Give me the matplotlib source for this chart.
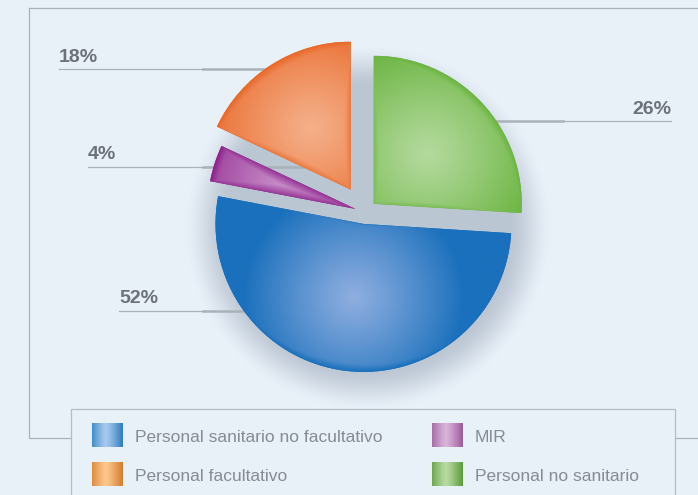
import numpy as np
import matplotlib.pyplot as plt
from matplotlib.patches import Rectangle
from matplotlib.colors import to_rgb

# datos del gráfico
categorias = ["Personal facultativo", "MIR", "Personal sanitario no facultativo", "Personal no sanitario"]
porcentajes = [18, 4, 52, 26]
etiquetas = ["18%", "4%", "52%", "26%"]
orden_leyenda = [2, 1, 0, 3]  # fila a fila, dos columnas

W, H = 698, 495
fondo = "#e8f0f8"
gris_linea = "#a9b1b9"
gris_texto = "#6d7278"

oscuro = ["#e96a2c", "#8a1f8a", "#1a70bc", "#6db543"]
claro = ["#f5b08a", "#c98fc9", "#8eaee0", "#b4da9e"]
sw_oscuro = ["#d47b2c", "#9a5a9a", "#2a7dbf", "#5b9a3a"]
sw_claro = ["#fdc88d", "#d8b6d8", "#a8caee", "#b8dda2"]
explode = [26.5, 10, 12, 12]  # desplazamiento en píxeles


def y(v):
    # posiciones en píxeles medidas desde arriba
    return H - v


fig = plt.figure(figsize=(W / 100, H / 100), dpi=100, facecolor=fondo)
ax = fig.add_axes([0, 0, 1, 1])
ax.set_facecolor(fondo)

# sombra difusa bajo la tarta
xs = np.arange(150, 600) + 0.5
ys = np.arange(0, 450) + 0.5
gx, gy = np.meshgrid(xs, ys)
d = np.hypot(gx - 368, gy - 228)
a = np.clip((185 - d) / 45, 0, 1)
a = a * a * (3 - 2 * a) * 0.42
sombra = np.zeros(d.shape + (4,))
sombra[..., :3] = to_rgb("#7d8ca0")
sombra[..., 3] = a
ax.imshow(sombra, extent=(150, 600, y(450), y(0)), zorder=1, interpolation="bilinear")

# líneas guía de las etiquetas (quedan tapadas por la tarta)
lab_x = [59, 88, 119, 671]
lab_base = [62, 159, 303, 114]
linea_y = [69, 167, 311, 121]
for i, et in enumerate(etiquetas):
    if i == 3:
        ax.plot([563, 671], [y(linea_y[i])] * 2, color=gris_linea, lw=0.9, zorder=1.5)
        ax.plot([450, 563], [y(linea_y[i])] * 2, color=gris_linea, lw=1.8, zorder=1.5)
        ha = "right"
    else:
        ax.plot([lab_x[i], 203], [y(linea_y[i])] * 2, color=gris_linea, lw=0.9, zorder=1.5)
        ax.plot([203, 330], [y(linea_y[i])] * 2, color=gris_linea, lw=1.8, zorder=1.5)
        ha = "left"
    ax.text(lab_x[i], y(lab_base[i]), et, ha=ha, va="baseline", fontsize=14,
            fontweight="bold", color=gris_texto, family="Liberation Sans")

wedges, _ = ax.pie(porcentajes, explode=explode, startangle=90, counterclock=True,
                   radius=148, center=(365, y(212)), colors=oscuro, frame=True,
                   wedgeprops=dict(linewidth=0, zorder=2))

# degradado en cada porción
for w, c1, c2 in zip(wedges, claro, oscuro):
    cx, cy = w.center
    r = w.r
    t1, t2 = np.deg2rad(w.theta1), np.deg2rad(w.theta2)
    mid = (t1 + t2) / 2
    hx, hy = cx + 0.5 * r * np.cos(mid), cy + 0.5 * r * np.sin(mid)
    n = 300
    gx, gy = np.meshgrid(np.linspace(cx - r, cx + r, n), np.linspace(cy + r, cy - r, n))
    rr = np.hypot(gx - cx, gy - cy)
    phi = np.arctan2(gy - cy, gx - cx)
    t = np.clip(np.hypot(gx - hx, gy - hy) / (0.75 * r), 0, 1) ** 1.1
    t = np.maximum(t, np.clip((rr / r - 0.88) / 0.12, 0, 1))
    e1 = np.where(np.cos(phi - t1) > 0, rr * np.abs(np.sin(phi - t1)), rr)
    e2 = np.where(np.cos(phi - t2) > 0, rr * np.abs(np.sin(phi - t2)), rr)
    e = np.minimum(e1, e2)
    t = np.maximum(t, 0.8 * np.clip(1 - e / 10, 0, 1))
    img = (1 - t)[..., None] * np.array(to_rgb(c1)) + t[..., None] * np.array(to_rgb(c2))
    im = ax.imshow(img, extent=(cx - r, cx + r, cy - r, cy + r), zorder=3,
                   interpolation="bilinear")
    im.set_clip_path(w)

# marco exterior
ax.plot([29, W], [y(8), y(8)], color=gris_linea, lw=0.9, zorder=1)
ax.plot([29, 29, 71], [y(8), y(438), y(438)], color=gris_linea, lw=0.9, zorder=1)
ax.plot([675, W], [y(438), y(438)], color=gris_linea, lw=0.9, zorder=1)

# leyenda
ax.add_patch(Rectangle((71, y(500)), 604, 91, facecolor=fondo, edgecolor="#b4bcc4",
                       lw=0.9, zorder=4, clip_on=False))
col_x = [92, 432]
fila_y = [423, 462]
u = np.linspace(0, 1, 60)
tg = np.clip(np.abs(u - 0.45) / 0.55, 0, 1) ** 1.2
for k, idx in enumerate(orden_leyenda):
    x0 = col_x[k % 2]
    y0 = fila_y[k // 2]
    grad = (1 - tg)[:, None] * np.array(to_rgb(sw_claro[idx])) + tg[:, None] * np.array(to_rgb(sw_oscuro[idx]))
    ax.imshow(grad[None, :, :].repeat(2, axis=0), extent=(x0, x0 + 31, y(y0 + 24), y(y0)),
              zorder=5, interpolation="bilinear")
    ax.text(x0 + 43, y(y0 + 19), categorias[idx], ha="left", va="baseline", fontsize=12.5,
            color="#878c92", family="Liberation Sans", zorder=6)

ax.set_xlim(0, W)
ax.set_ylim(0, H)
ax.set_aspect("auto")
ax.axis("off")

fig.savefig("out.png", dpi=100, facecolor=fondo)
